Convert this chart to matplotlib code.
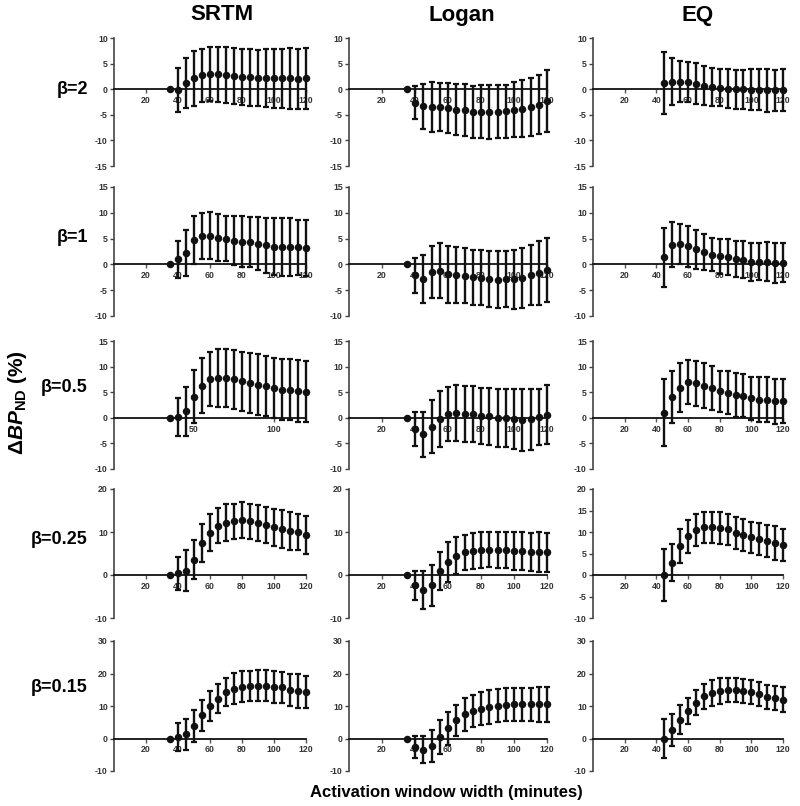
import matplotlib
matplotlib.use('Agg')
import matplotlib.pyplot as plt

plt.rcParams['font.family'] = ['Liberation Sans', 'DejaVu Sans']
plt.rcParams['axes.unicode_minus'] = False
plt.rcParams['mathtext.fontset'] = 'custom'
plt.rcParams['mathtext.rm'] = 'Liberation Sans:bold'
plt.rcParams['mathtext.bf'] = 'Liberation Sans:bold'
plt.rcParams['mathtext.it'] = 'Liberation Sans:italic:bold'

# activation window widths (minutes)
x_full = [35, 40, 45, 50, 55, 60, 65, 70, 75, 80, 85, 90, 95, 100, 105, 110, 115, 120]
x_eq = [45, 50, 55, 60, 65, 70, 75, 80, 85, 90, 95, 100, 105, 110, 115, 120]

methods = ['SRTM', 'Logan', 'EQ']
betas = ['β=2', 'β=1', 'β=0.5', 'β=0.25', 'β=0.15']

# beta = 2
srtm_b2_m = [0, -0.1, 1.2, 2.1, 2.7, 2.9, 2.9, 2.8, 2.6, 2.4, 2.3, 2.2, 2.2, 2.1, 2.1, 2.1, 2.0, 2.1]
srtm_b2_sd = [0, 4.3, 4.9, 5.3, 5.2, 5.3, 5.4, 5.4, 5.4, 5.5, 5.5, 5.5, 5.6, 5.8, 5.8, 5.9, 5.9, 5.9]
logan_b2_m = [0, -2.6, -3.3, -3.5, -3.5, -3.7, -4.0, -4.1, -4.4, -4.4, -4.5, -4.4, -4.3, -4.0, -3.8, -3.5, -3.0, -2.3]
logan_b2_sd = [0, 3.3, 4.4, 4.9, 4.7, 4.9, 5.0, 5.1, 5.1, 5.2, 5.3, 5.2, 5.2, 5.4, 5.6, 5.6, 5.8, 6.1]
eq_b2_m = [1.2, 1.5, 1.5, 1.4, 1.1, 0.7, 0.5, 0.3, 0.1, 0.0, 0.0, -0.1, -0.1, -0.2, -0.2, -0.2]
eq_b2_sd = [6.0, 4.6, 4.0, 3.9, 4.0, 3.8, 3.7, 3.6, 3.8, 3.8, 3.8, 4.0, 4.0, 4.2, 4.0, 4.1]

# beta = 1
srtm_b1_m = [0, 1.0, 2.2, 4.7, 5.5, 5.6, 5.2, 5.0, 4.6, 4.4, 4.3, 4.0, 3.7, 3.4, 3.3, 3.3, 3.3, 3.2]
srtm_b1_sd = [0, 3.6, 4.5, 4.6, 4.5, 4.5, 4.6, 4.4, 4.7, 4.9, 4.9, 5.1, 5.3, 5.5, 5.6, 5.6, 5.4, 5.5]
logan_b1_m = [0, -2.1, -2.8, -1.5, -1.2, -1.9, -2.0, -2.2, -2.5, -2.6, -2.8, -3.0, -2.8, -2.9, -2.6, -2.0, -1.7, -1.1]
logan_b1_sd = [0, 3.4, 4.7, 5.0, 5.3, 5.5, 5.4, 5.3, 5.3, 5.3, 5.4, 5.5, 5.4, 5.7, 5.8, 5.8, 6.2, 6.2]
eq_b1_m = [1.4, 3.8, 4.0, 3.5, 2.9, 2.4, 1.9, 1.6, 1.4, 1.1, 0.9, 0.5, 0.5, 0.5, 0.3, 0.3]
eq_b1_sd = [5.7, 4.4, 3.9, 4.0, 3.7, 3.4, 3.2, 3.4, 3.5, 3.5, 3.6, 3.7, 3.6, 3.8, 3.9, 3.8]

# beta = 0.5
srtm_b05_m = [0, 0.1, 1.3, 4.1, 6.3, 7.6, 7.8, 7.8, 7.5, 7.1, 6.8, 6.5, 6.2, 5.8, 5.5, 5.5, 5.2, 5.1]
srtm_b05_sd = [0, 3.7, 4.8, 5.2, 5.4, 5.3, 5.6, 5.6, 5.8, 5.7, 5.8, 6.0, 5.9, 5.9, 6.0, 6.0, 6.0, 6.0]
logan_b05_m = [0, -2.2, -3.2, -1.7, -0.3, 0.7, 1.0, 0.8, 0.7, 0.4, 0.3, 0.0, -0.1, -0.2, -0.4, -0.3, 0.1, 0.6]
logan_b05_sd = [0, 3.3, 4.4, 5.2, 5.5, 5.3, 5.5, 5.5, 5.5, 5.5, 5.6, 5.7, 5.7, 5.8, 6.0, 5.9, 5.5, 5.8]
eq_b05_m = [1.0, 4.0, 5.9, 6.9, 6.7, 6.3, 5.8, 5.2, 4.9, 4.5, 4.3, 3.8, 3.5, 3.5, 3.2, 3.2]
eq_b05_sd = [6.5, 5.1, 4.8, 4.3, 4.4, 4.4, 4.3, 4.0, 4.2, 4.3, 4.2, 4.2, 4.4, 4.4, 4.4, 4.3]

# beta = 0.25
srtm_b025_m = [0, 0.4, 1.0, 3.6, 7.4, 9.8, 11.5, 12.1, 12.5, 12.7, 12.5, 12.1, 11.7, 11.1, 10.7, 10.3, 10.0, 9.4]
srtm_b025_sd = [0, 3.8, 4.8, 4.6, 4.4, 4.3, 4.1, 4.3, 4.1, 4.2, 4.1, 4.1, 4.2, 4.3, 4.4, 4.4, 4.3, 4.4]
logan_b025_m = [0, -2.4, -3.5, -2.4, 0.9, 3.0, 4.5, 5.3, 5.6, 5.8, 5.9, 5.8, 5.8, 5.6, 5.5, 5.4, 5.3, 5.3]
logan_b025_sd = [0, 3.3, 4.5, 4.8, 4.5, 4.6, 4.3, 4.1, 4.1, 4.1, 4.1, 4.2, 4.2, 4.4, 4.4, 4.4, 4.7, 4.5]
eq_b025_m = [0.0, 2.9, 6.7, 9.0, 10.5, 11.1, 11.1, 11.0, 10.6, 9.8, 9.3, 8.8, 8.4, 7.9, 7.5, 6.9]
eq_b025_sd = [6.1, 4.3, 4.0, 3.9, 3.7, 3.6, 3.6, 3.7, 3.6, 3.8, 3.8, 3.6, 3.7, 3.8, 3.9, 3.7]

# beta = 0.15
srtm_b015_m = [0, 0.5, 1.3, 3.8, 7.1, 10.0, 12.3, 14.3, 15.3, 15.9, 16.1, 16.2, 16.2, 15.9, 15.7, 15.0, 14.6, 14.2]
srtm_b015_sd = [0, 4.3, 4.7, 5.0, 4.8, 4.6, 4.6, 4.4, 4.8, 4.8, 4.6, 4.8, 4.8, 4.9, 4.8, 5.0, 5.1, 4.9]
logan_b015_m = [0, -2.6, -3.4, -2.3, 0.5, 3.1, 5.6, 7.4, 8.5, 9.2, 9.7, 10.1, 10.4, 10.5, 10.5, 10.5, 10.5, 10.5]
logan_b015_sd = [0, 3.3, 4.1, 4.9, 5.3, 5.2, 4.8, 5.0, 5.0, 5.0, 5.1, 5.0, 5.0, 5.1, 5.1, 5.1, 5.3, 5.3]
eq_b015_m = [0.0, 2.6, 5.8, 8.5, 11.0, 13.0, 14.0, 14.6, 14.8, 14.8, 14.6, 14.2, 13.6, 12.8, 12.5, 12.0]
eq_b015_sd = [6.1, 4.8, 4.4, 4.1, 3.9, 3.9, 3.9, 3.9, 3.7, 3.7, 3.7, 3.7, 3.7, 3.8, 3.6, 3.7]

panels = [
    [(srtm_b2_m, srtm_b2_sd), (logan_b2_m, logan_b2_sd), (eq_b2_m, eq_b2_sd)],
    [(srtm_b1_m, srtm_b1_sd), (logan_b1_m, logan_b1_sd), (eq_b1_m, eq_b1_sd)],
    [(srtm_b05_m, srtm_b05_sd), (logan_b05_m, logan_b05_sd), (eq_b05_m, eq_b05_sd)],
    [(srtm_b025_m, srtm_b025_sd), (logan_b025_m, logan_b025_sd), (eq_b025_m, eq_b025_sd)],
    [(srtm_b015_m, srtm_b015_sd), (logan_b015_m, logan_b015_sd), (eq_b015_m, eq_b015_sd)],
]

ylims = [(-15, 10), (-10, 15), (-10, 15), (-10, 20), (-10, 30)]
yticks = [range(-15, 11, 5), range(-10, 16, 5), range(-10, 16, 5), range(-10, 21, 10), range(-10, 31, 10)]

W, H = 800, 806
fig = plt.figure(figsize=(W / 100, H / 100), dpi=100)

# pixel layout of the panels
col_px = [(114, 306), (349, 547), (593, 783)]
row_px = [(38, 166), (187, 316), (341, 469), (489, 618), (641, 771)]

for r in range(5):
    for c in range(3):
        x0, x1 = col_px[c]
        t, b = row_px[r]
        ax = fig.add_axes([x0 / W, 1 - b / H, (x1 - x0) / W, (b - t) / H])
        m, sd = panels[r][c]
        xs = x_eq if c == 2 else x_full
        ax.errorbar(xs, m, yerr=sd, fmt='o', color='#111111', ms=4.4,
                    elinewidth=1.7, capsize=2.4, capthick=1.6, clip_on=False, zorder=3)
        ax.set_xlim(0, 120)
        ax.set_ylim(*ylims[r])
        yt = list(yticks[r])
        if r == 3 and c == 2:
            yt = list(range(-10, 21, 5))
        ax.set_yticks(yt)
        if r == 2 and c == 0:
            ax.set_xticks([50, 100])
        else:
            ax.set_xticks([20, 40, 60, 80, 100, 120])
        ax.spines['top'].set_visible(False)
        ax.spines['right'].set_visible(False)
        ax.spines['bottom'].set_position(('data', 0))
        ax.spines['bottom'].set_color('#111111')
        ax.spines['bottom'].set_linewidth(1.3)
        ax.spines['left'].set_color('#444444')
        ax.spines['left'].set_linewidth(1.2)
        ax.patch.set_visible(False)
        ax.tick_params(axis='y', length=3, width=1, pad=1.5, colors='#444444',
                       labelsize=6.3, labelcolor='#333333')
        ax.tick_params(axis='x', length=3, width=1, pad=2, colors='#555555',
                       labelsize=6.3, labelcolor='#333333')
        for lab in ax.get_xticklabels() + ax.get_yticklabels():
            lab.set_fontweight('bold')

# column titles
title_x = [222, 462, 698]
for c in range(3):
    fig.text(title_x[c] / W, 1 - 15 / H, methods[c], ha='center', va='center',
             fontsize=16, fontweight='bold')

# row labels
beta_y = [90, 237, 387, 540, 687]
for r in range(5):
    fig.text(88 / W, 1 - beta_y[r] / H, betas[r], ha='right', va='center',
             fontsize=13, fontweight='bold')

fig.text(18 / W, 1 - 403 / H, r'$\Delta\mathit{BP}_{\mathrm{ND}}$ (%)', rotation=90,
         ha='center', va='center', fontsize=15, fontweight='bold')
fig.text(446 / W, 1 - 793 / H, 'Activation window width (minutes)', ha='center',
         va='center', fontsize=12, fontweight='bold')

fig.savefig('out.png', dpi=100)
